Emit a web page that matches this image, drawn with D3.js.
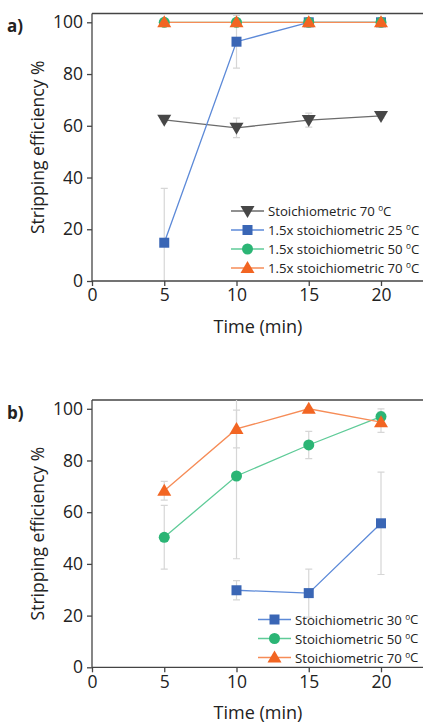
<!DOCTYPE html>
<html>
<head>
<meta charset="utf-8">
<script src="https://cdn.jsdelivr.net/npm/d3@7"></script>
<style>
  body { margin: 0; background: #fff; }
  text { font-family: "Open Sans", "Noto Sans", sans-serif; fill: #222; }
</style>
</head>
<body>
<div id="chart"></div>
<script>
// time points (min)
const times = [5, 10, 15, 20];
const xTicks = [0, 5, 10, 15, 20];
const yTicks = [0, 20, 40, 60, 80, 100];

// panel a
const aNames = ['Stoichiometric 70 ', '1.5x stoichiometric 25 ', '1.5x stoichiometric 50 ', '1.5x stoichiometric 70 '];
const aStoich70 = [62.3, 59.2, 62.2, 63.8];
const aStoich70Err = [0.8, 3.8, 2.7, 0.8];
const a15x25 = [14.8, 92.5, 100, 100];
const a15x25Err = [21, 10.2, 0.5, 0.5];
const a15x50 = [100, 100, 100, 100];
const a15x50Err = [0.5, 0.5, 0.5, 0.5];
const a15x70 = [100, 100, 100, 100];
const a15x70Err = [0.5, 0.5, 0.5, 0.5];

// panel b
const bNames = ['Stoichiometric 30 ', 'Stoichiometric 50 ', 'Stoichiometric 70 '];
const bStoich30 = [null, 29.8, 28.7, 55.7];
const bStoich30Err = [null, 3.7, 9.3, 19.8];
const bStoich50 = [50.3, 74.0, 86.0, 97.0];
const bStoich50Err = [12.3, 32, 5.3, 3];
const bStoich70 = [68.3, 92.2, 100, 94.8];
const bStoich70Err = [3.6, 7.3, 0.5, 3.9];

const styles = {
    gray:   {fill: '#474747', line: '#6b6b6b', shape: 'down'},
    blue:   {fill: '#3a66b5', line: '#5d8ad8', shape: 'square'},
    green:  {fill: '#2bb575', line: '#5fcb98', shape: 'circle'},
    orange: {fill: '#f26522', line: '#f68c57', shape: 'up'}
};

const W = 423, H = 724;
const svg = d3.select('#chart').append('svg').attr('width', W).attr('height', H);

function drawMarker(g, shape, cx, cy, color) {
    if (shape === 'square') {
        g.append('rect').attr('x', cx - 5).attr('y', cy - 5).attr('width', 10).attr('height', 10).attr('fill', color);
    } else if (shape === 'circle') {
        g.append('circle').attr('cx', cx).attr('cy', cy).attr('r', 5.5).attr('fill', color);
    } else if (shape === 'up') {
        g.append('path').attr('d', 'M' + cx + ',' + (cy - 7) + 'L' + (cx + 7) + ',' + (cy + 5) + 'L' + (cx - 7) + ',' + (cy + 5) + 'Z').attr('fill', color);
    } else {
        g.append('path').attr('d', 'M' + cx + ',' + (cy + 7) + 'L' + (cx + 7) + ',' + (cy - 5) + 'L' + (cx - 7) + ',' + (cy - 5) + 'Z').attr('fill', color);
    }
}

function degText(sel, name) {
    sel.text(name);
    sel.append('tspan').attr('font-size', '0.62em').attr('dy', '-0.55em').text('o');
    sel.append('tspan').attr('dy', '0.34em').text('C');
}

function panel(opts) {
    let top = opts.top, bottom = opts.bottom, left = 92;
    let x = d3.scaleLinear().domain([0, 23]).range([left, left + 23 * 14.45]);
    let y = d3.scaleLinear().domain([0, 103.4]).range([bottom, top]);
    let G = svg.append('g');

    let clipId = 'clip' + opts.id;
    G.append('clipPath').attr('id', clipId).append('rect')
        .attr('x', left).attr('y', top).attr('width', W - left).attr('height', bottom - top);

    // frame top
    G.append('line').attr('x1', left).attr('x2', W).attr('y1', top).attr('y2', top)
        .attr('stroke', '#444').attr('stroke-width', 1.3);

    let plot = G.append('g').attr('clip-path', 'url(#' + clipId + ')');

    // error bars
    opts.series.forEach((s) => {
        times.forEach((t, i) => {
            if (s.values[i] == null) return;
            let lo = y(s.values[i] - s.err[i]), hi = y(s.values[i] + s.err[i]), cx = x(t);
            plot.append('line').attr('x1', cx).attr('x2', cx).attr('y1', lo).attr('y2', hi)
                .attr('stroke', '#d6d6d6').attr('stroke-width', 1.2);
            [lo, hi].forEach((yy) => {
                plot.append('line').attr('x1', cx - 3.5).attr('x2', cx + 3.5).attr('y1', yy).attr('y2', yy)
                    .attr('stroke', '#d6d6d6').attr('stroke-width', 1.2);
            });
        });
    });

    // lines + markers
    opts.series.forEach((s) => {
        let pts = times.map((t, i) => ({t: t, v: s.values[i]})).filter((p) => p.v != null);
        let line = d3.line().x((p) => x(p.t)).y((p) => y(p.v));
        plot.append('path').attr('d', line(pts)).attr('fill', 'none')
            .attr('stroke', s.style.line).attr('stroke-width', 1.3);
        pts.forEach((p) => drawMarker(G, s.style.shape, x(p.t), y(p.v), s.style.fill));
    });

    // axes
    let xAxis = G.append('g').attr('transform', 'translate(0,' + bottom + ')')
        .call(d3.axisBottom(x).tickValues(xTicks).tickSize(5).tickPadding(3).tickSizeOuter(0));
    xAxis.select('.domain').attr('d', 'M' + left + ',0H' + W);
    let yAxis = G.append('g').attr('transform', 'translate(' + left + ',0)')
        .call(d3.axisLeft(y).tickValues(yTicks).tickSize(5).tickPadding(4).tickSizeOuter(0));
    yAxis.select('.domain').attr('d', 'M0,' + top + 'V' + bottom);
    [xAxis, yAxis].forEach((a) => {
        a.selectAll('.domain, .tick line').attr('stroke', '#444').attr('stroke-width', 1.3);
        a.selectAll('.tick text').attr('font-size', 17.5).attr('fill', '#222')
            .style('font-family', '"Open Sans", sans-serif');
    });

    // titles
    G.append('text').attr('x', 258).attr('y', bottom + 52).attr('text-anchor', 'middle')
        .attr('font-size', 18).text('Time (min)');
    G.append('text').attr('transform', 'translate(44,' + ((top + bottom) / 2) + ') rotate(-90)')
        .attr('text-anchor', 'middle').attr('font-size', 17.5).text('Stripping efficiency %');
    G.append('text').attr('x', 7).attr('y', opts.letterY).attr('font-size', 17)
        .attr('font-weight', 'bold').text(opts.letter);

    // legend
    opts.series.forEach((s, i) => {
        let ly = opts.legY + i * opts.legStep;
        let lx = opts.legX;
        G.append('line').attr('x1', lx).attr('x2', lx + 33).attr('y1', ly).attr('y2', ly)
            .attr('stroke', s.style.line).attr('stroke-width', 1.3);
        drawMarker(G, s.style.shape, lx + 16.5, ly, s.style.fill);
        G.append('text').attr('x', lx + 37).attr('y', ly + 5).attr('font-size', 13.2)
            .call(degText, s.name);
    });
}

panel({
    id: 'a', top: 13.5, bottom: 281, letter: 'a)', letterY: 32,
    legX: 231, legY: 211, legStep: 19,
    series: [
        {name: aNames[0], values: aStoich70, err: aStoich70Err, style: styles.gray},
        {name: aNames[1], values: a15x25, err: a15x25Err, style: styles.blue},
        {name: aNames[2], values: a15x50, err: a15x50Err, style: styles.green},
        {name: aNames[3], values: a15x70, err: a15x70Err, style: styles.orange}
    ]
});

panel({
    id: 'b', top: 400, bottom: 667.3, letter: 'b)', letterY: 419,
    legX: 258, legY: 619.5, legStep: 19,
    series: [
        {name: bNames[0], values: bStoich30, err: bStoich30Err, style: styles.blue},
        {name: bNames[1], values: bStoich50, err: bStoich50Err, style: styles.green},
        {name: bNames[2], values: bStoich70, err: bStoich70Err, style: styles.orange}
    ]
});
</script>
</body>
</html>
